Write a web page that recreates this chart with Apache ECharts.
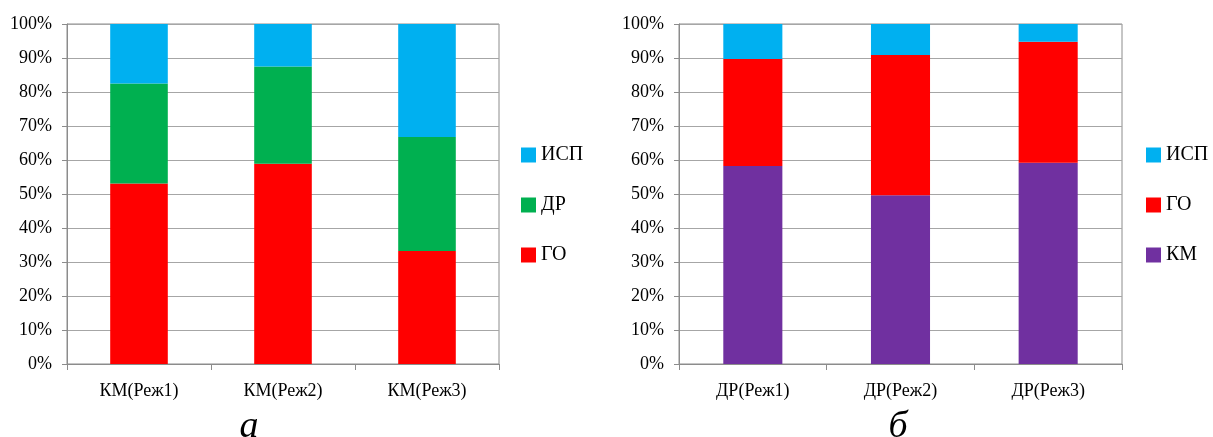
<!DOCTYPE html>
<html>
<head>
<meta charset="utf-8">
<script src="https://cdn.jsdelivr.net/npm/echarts@6/dist/echarts.min.js"></script>
<style>
	html, body { margin: 0; padding: 0; background: #fff; }
	#chart { width: 1213px; height: 437px; }
</style>
</head>
<body>
<div id="chart"></div>
<script>
(function(){
	// данные (проценты)
	var catsA = ['КМ(Реж1)', 'КМ(Реж2)', 'КМ(Реж3)'];
	var goA = [53.1, 58.9, 33.2];
	var drA = [29.4, 28.6, 33.6];
	var ispA = [17.5, 12.5, 33.2];

	var catsB = ['ДР(Реж1)', 'ДР(Реж2)', 'ДР(Реж3)'];
	var kmB = [58.2, 49.6, 59.2];
	var goB = [31.5, 41.3, 35.6];
	var ispB = [10.3, 9.1, 5.2];

	var yTicks = [0, 10, 20, 30, 40, 50, 60, 70, 80, 90, 100];

	var colors = { isp: '#00B0F0', dr: '#00B050', go: '#FF0000', km: '#7030A0' };
	var font = 'Liberation Serif, Times New Roman, serif';

	var chart = echarts.init(document.getElementById('chart'));

	function xAxisOf(idx, cats) {
		return {
			type: 'category',
			gridIndex: idx,
			data: cats,
			axisLine: { lineStyle: { color: '#8c8c8c', width: 1 } },
			axisTick: { show: true, length: 6, lineStyle: { color: '#8c8c8c' } },
			axisLabel: { color: '#000', fontFamily: font, fontSize: 18, margin: 18 }
		};
	}
	function yAxisOf(idx) {
		return {
			type: 'value',
			gridIndex: idx,
			min: yTicks[0],
			max: yTicks[yTicks.length - 1],
			interval: 10,
			axisLine: { show: true, lineStyle: { color: '#8c8c8c', width: 1 } },
			axisTick: { show: true, length: 5, lineStyle: { color: '#8c8c8c' } },
			splitLine: { lineStyle: { color: '#a6a6a6', width: 1 } },
			axisLabel: { color: '#000', fontFamily: font, fontSize: 18, margin: 15, formatter: '{value}%' }
		};
	}
	function bar(name, xi, data, color) {
		return {
			name: name,
			type: 'bar',
			stack: 's' + xi,
			xAxisIndex: xi,
			yAxisIndex: xi,
			barCategoryGap: '60%',
			itemStyle: { color: color },
			data: data
		};
	}
	var legendBase = {
		orient: 'vertical',
		icon: 'rect',
		itemWidth: 15,
		itemHeight: 15,
		itemGap: 30,
		padding: 0,
		textStyle: { color: '#000', fontFamily: font, fontSize: 20 }
	};

	var option = {
		animation: false,
		backgroundColor: '#fff',
		textStyle: { fontFamily: font },
		grid: [
			{ left: 67, top: 24, width: 432, height: 340, show: true, borderColor: '#8c8c8c', borderWidth: 1 },
			{ left: 679, top: 24, width: 443, height: 340, show: true, borderColor: '#8c8c8c', borderWidth: 1 }
		],
		legend: [
			Object.assign({}, legendBase, { left: 521, top: 145, data: ['ИСП', 'ДР', 'ГО'] }),
			Object.assign({}, legendBase, { left: 1146, top: 145, data: ['ИСП', 'ГО', 'КМ'] })
		],
		xAxis: [xAxisOf(0, catsA), xAxisOf(1, catsB)],
		yAxis: [yAxisOf(0), yAxisOf(1)],
		series: [
			bar('ГО', 0, goA, colors.go),
			bar('ДР', 0, drA, colors.dr),
			bar('ИСП', 0, ispA, colors.isp),
			bar('КМ', 1, kmB, colors.km),
			bar('ГО', 1, goB, colors.go),
			bar('ИСП', 1, ispB, colors.isp)
		],
		graphic: [
			{ type: 'text', x: 249, y: 446, style: { text: 'а', font: 'italic 38px ' + font, fill: '#000', textAlign: 'center', textVerticalAlign: 'bottom' } },
			{ type: 'text', x: 898, y: 446, style: { text: 'б', font: 'italic 38px ' + font, fill: '#000', textAlign: 'center', textVerticalAlign: 'bottom' } }
		]
	};
	chart.setOption(option);
})();
</script>
</body>
</html>
